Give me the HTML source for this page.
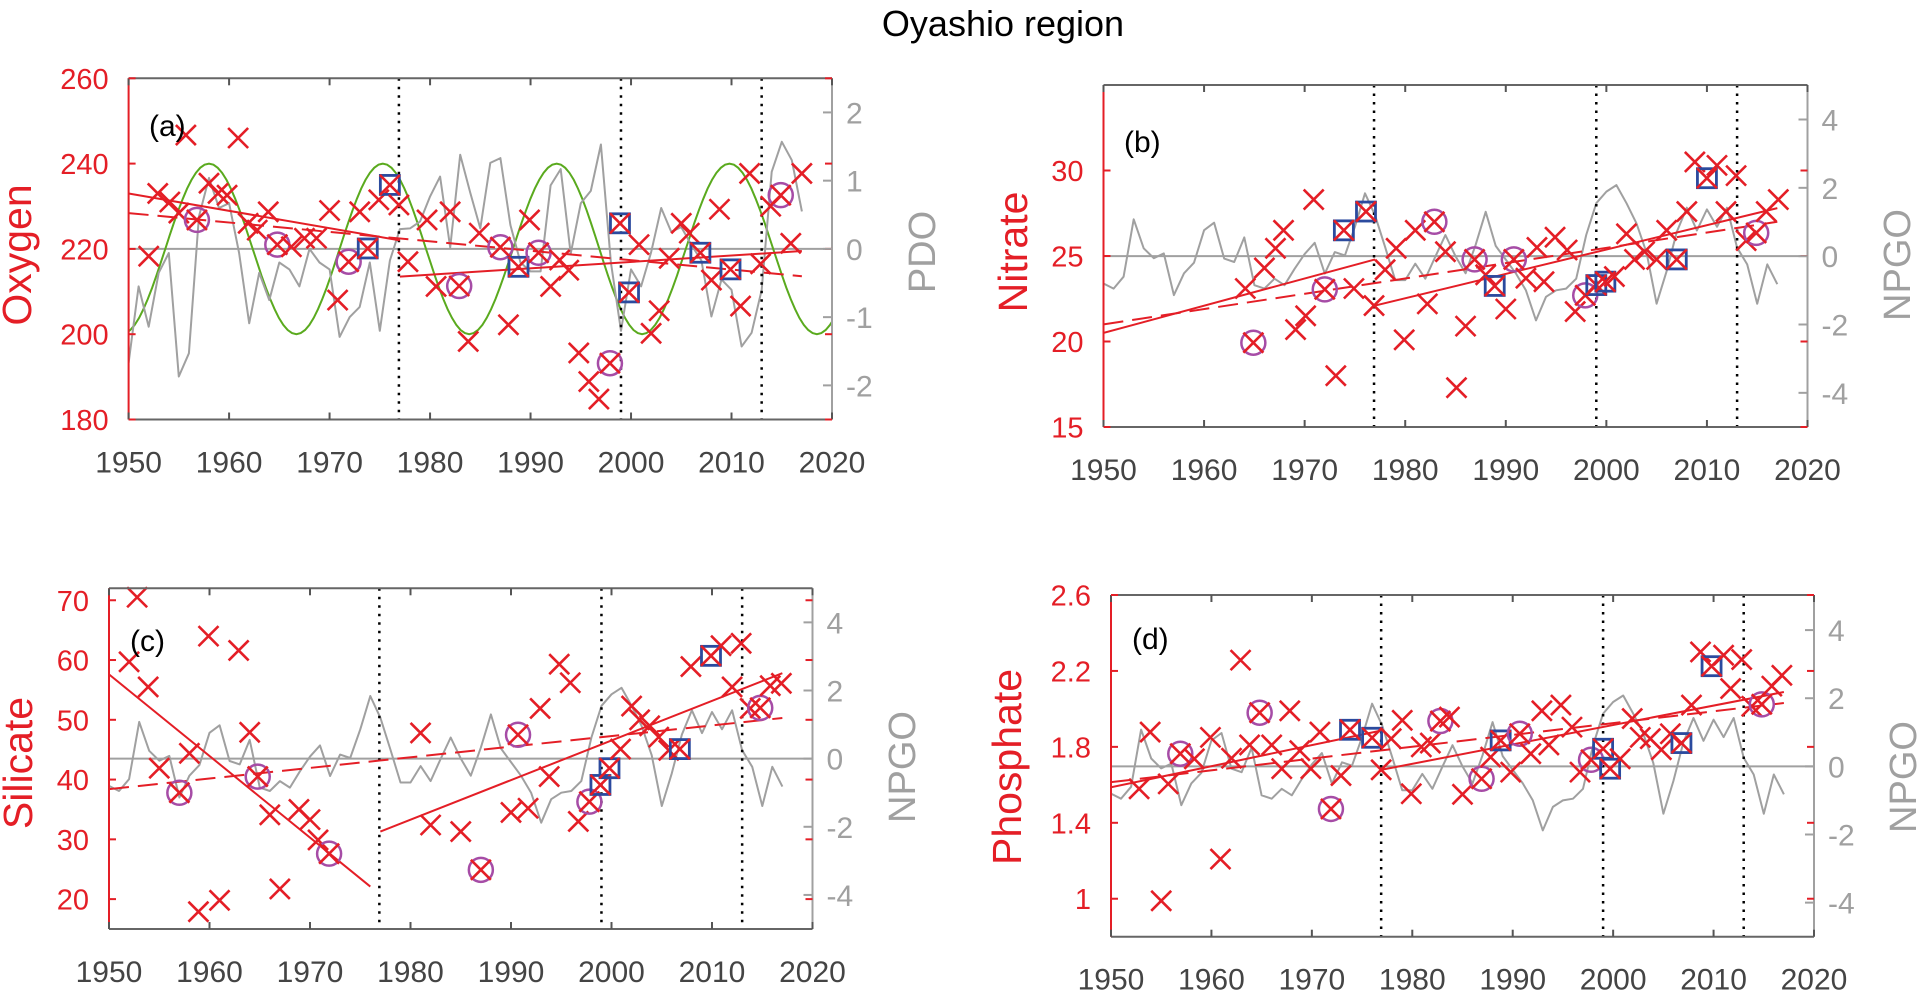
<!DOCTYPE html>
<html><head><meta charset="utf-8"><title>Oyashio region</title>
<style>
html,body{margin:0;padding:0;background:#fff;}
svg{display:block;font-family:"Liberation Sans",sans-serif;}
</style></head>
<body>
<svg id="fig" width="1922" height="992" viewBox="0 0 1922 992" xmlns="http://www.w3.org/2000/svg">
<text x="1003" y="36" font-size="36" text-anchor="middle" fill="#000">Oyashio region</text>
</svg>
<script>
// ---------- shared climate indices (1950..2017) ----------
const indexStartYear = 1950;
const pdoValues = [-1.67,-0.55,-1.14,-0.35,-0.06,-1.87,-1.53,0.47,1.04,0.6,0.67,-0.06,-1.09,-0.35,-0.75,-0.2,-0.3,-0.55,0.0,-0.2,-0.3,-1.29,-1.0,-0.85,-0.2,-1.2,-0.17,0.29,0.3,0.4,0.77,1.06,0.02,1.38,0.82,0.3,1.26,1.33,0.35,-0.2,-0.33,-0.33,0.93,1.17,-0.07,0.67,0.85,1.53,-0.2,-1.2,-0.3,-0.55,-0.05,0.6,0.25,0.32,0.06,-0.17,-0.99,-0.45,-0.6,-1.43,-1.23,-0.6,1.13,1.57,1.3,0.55];
const npgoValues = [-0.8,-0.95,-0.6,1.08,0.23,-0.06,0.08,-1.14,-0.5,-0.19,0.76,0.98,-0.07,-0.17,0.55,-0.85,-0.95,-0.66,-0.85,-0.37,0.06,0.39,-0.51,0.12,0.02,0.86,1.84,1.2,0.27,-0.7,-0.7,-0.22,-0.66,-0.01,0.62,0.0,-0.5,0.33,1.3,0.3,-0.1,-0.5,-1.0,-1.88,-1.19,-1.0,-0.95,-0.66,0.62,1.55,1.89,2.08,1.55,0.96,0.1,-1.39,-0.43,0.71,1.42,0.75,1.37,0.86,1.42,0.25,-0.24,-1.39,-0.24,-0.82];
// PDO cycle extremes (green curve)
const cycleYears = [1949.3,1958.0,1966.7,1975.3,1983.9,1992.6,2001.1,2009.8,2018.5,2027.2];
const cycleValues = [-1.25,1.25,-1.25,1.25,-1.25,1.25,-1.25,1.25,-1.25,1.25];
const regimeShiftYears = [1976.9,1999.0,2013.0];
const xTickYears = [1950,1960,1970,1980,1990,2000,2010,2020];

// ---------- (a) oxygen ----------
const oxyYears = [1952.0,1952.9,1954.1,1955.0,1955.7,1956.8,1958.0,1958.9,1959.8,1960.9,1961.9,1962.8,1963.9,1964.8,1966.2,1967.5,1968.7,1970.0,1970.8,1971.9,1973.0,1973.8,1974.9,1976.0,1976.9,1977.8,1979.7,1980.6,1982.0,1982.9,1983.8,1984.9,1987.0,1987.8,1988.8,1989.9,1990.8,1992.0,1992.9,1993.8,1994.8,1995.8,1996.8,1997.9,1998.9,1999.8,2000.8,2002.0,2002.8,2003.8,2005.0,2005.8,2006.9,2008.0,2008.8,2009.9,2010.9,2011.8,2012.9,2013.9,2014.9,2015.9,2017.0];
const oxyValues = [218.3,233,231,228.4,246.7,226.8,235.4,233,232.6,246,226,224.4,228.7,221,220.5,222.5,222.5,229,208,217,228.7,220.1,231.5,235,230.3,217,226.8,211.2,228.7,211.3,198.3,223.7,220.4,202.2,215.8,226.8,219.1,211.2,217.4,215,195.6,188.9,184.8,193.2,226,209.8,221,200.2,205.5,217.8,226,223.7,219.1,212.7,229.3,215.2,206.6,237.7,216.5,230,232.6,221.3,237.7];
const oxyKinds = "xxxxxoxxxxxxxoxxxxxoxsxsxxxxxoxxoxsxoxxxxxxossxxxxxxsxxsxxxxoxx";
const oxyEarlyTrend = [[1950,233],[1977,222]];
const oxyLateTrend = [[1977,213.5],[2017,219.5]];
const oxyFullTrend = [[1950,228.4],[2017,213.6]];
const oxyTicks = [180,200,220,240,260];
const pdoTicks = [-2,-1,0,1,2];

// ---------- (b) nitrate ----------
const nitYears = [1964.1,1964.9,1966.0,1967.1,1967.9,1969.1,1970.1,1970.9,1972.0,1973.1,1973.9,1974.9,1976.1,1976.9,1978.0,1979.1,1979.9,1981.0,1982.2,1982.9,1984.0,1985.1,1986.0,1986.9,1988.0,1988.9,1990.0,1990.8,1992.0,1993.1,1993.8,1994.9,1996.1,1996.9,1997.9,1999.0,1999.9,2000.8,2002.0,2002.8,2003.8,2005.0,2006.0,2007.0,2008.0,2008.8,2010.0,2011.0,2011.9,2012.9,2013.9,2014.9,2015.9,2017.1];
const nitValues = [23.1,19.93,24.3,25.45,26.5,20.7,21.5,28.3,23.05,18,26.5,23.1,27.6,22.1,24.2,25.45,20.1,26.5,22.2,27.0,25.25,17.3,20.9,24.8,23.9,23.25,21.9,24.8,23.7,25.5,23.5,26.1,25.35,21.75,22.7,23.3,23.5,23.8,26.3,24.8,25.25,24.8,26.5,24.8,27.6,30.5,29.55,30.3,27.6,29.7,25.9,26.35,27.6,28.3];
const nitKinds = "xoxxxxxxoxsxsxxxxxxoxxxoxsxoxxxxxxossxxxxxxsxxsxxxxoxx";
const nitEarlyTrend = [[1950,20.5],[1977,24.8]];
const nitLateTrend = [[1977,22.1],[2017,27.8]];
const nitFullTrend = [[1950,21.0],[2017,27.0]];
const nitTicks = [15,20,25,30];
const npgoTicks = [-4,-2,0,2,4];

// ---------- (c) silicate ----------
const silYears = [1952.0,1952.8,1953.9,1955.0,1957.0,1958.0,1958.9,1959.9,1961.0,1962.9,1964.0,1964.8,1966.0,1967.0,1968.9,1970.0,1970.8,1971.9,1981.0,1982.0,1985.0,1987.0,1990.0,1990.7,1991.7,1992.9,1993.8,1994.8,1995.9,1996.7,1997.8,1998.9,1999.8,2000.9,2002.0,2002.8,2003.8,2004.7,2005.7,2006.8,2007.9,2009.9,2010.9,2012.0,2012.9,2013.8,2014.8,2015.8,2016.9];
const silValues = [59.7,70.5,55.5,41.9,37.8,44.4,17.9,64,19.8,61.6,47.9,40.5,34.1,21.7,35.0,33.3,29.9,27.6,47.8,32.4,31.3,24.9,34.5,47.5,35.2,51.9,40.5,59.3,56.2,33,36.3,39.1,41.9,45.1,52.3,50,49,47.1,44.9,45.1,58.9,60.7,62.4,55.5,62.8,51.9,52,55.7,56.1];
const silKinds = "xxxxoxxxxxxoxxxxxoxxxoxoxxxxxxossxxxxxxsxsxxxxoxx";
const silEarlyTrend = [[1950,57.6],[1976,22.1]];
const silLateTrend = [[1977,31.3],[2017,57.8]];
const silFullTrend = [[1950,38.4],[2017,50.3]];
const silTicks = [20,30,40,50,60,70];

// ---------- (d) phosphate ----------
const phoYears = [1952.8,1953.9,1955.0,1955.7,1956.9,1958.3,1959.9,1960.9,1962.0,1962.9,1963.8,1964.8,1966.0,1967.0,1967.8,1968.8,1969.9,1970.8,1971.9,1972.9,1973.8,1976.0,1976.9,1977.9,1979.0,1979.9,1980.9,1981.8,1982.8,1983.7,1985.0,1986.9,1987.8,1988.8,1989.8,1990.7,1991.8,1992.9,1993.6,1994.8,1995.9,1996.7,1997.8,1999.0,1999.7,2000.7,2001.9,2002.7,2003.7,2004.8,2005.7,2006.8,2007.8,2008.7,2009.8,2011.0,2011.7,2012.8,2013.8,2014.8,2015.8,2016.8];
const phoValues = [1.579,1.878,0.989,1.605,1.764,1.737,1.85,1.209,1.74,2.257,1.81,1.98,1.81,1.685,1.99,1.78,1.685,1.878,1.473,1.649,1.89,1.848,1.679,1.843,1.94,1.553,1.8,1.82,1.936,1.957,1.55,1.632,1.746,1.834,1.667,1.869,1.764,1.99,1.81,2.02,1.904,1.667,1.732,1.79,1.685,1.737,1.949,1.85,1.843,1.785,1.869,1.82,2.02,2.3,2.225,2.283,2.107,2.26,2.014,2.024,2.12,2.177];
const phoKinds = "xxxxoxxxxxxoxxxxxxoxssxxxxxxoxxoxsxoxxxxxxossxxxxxxsxxsxxxxoxx";
const phoEarlyTrend = [[1950,1.587],[1977,1.887]];
const phoLateTrend = [[1977,1.68],[2017,2.089]];
const phoFullTrend = [[1950,1.614],[2017,2.031]];
const phoTicks = [1.0,1.4,1.8,2.2,2.6];

// ---------- drawing ----------
const NS = "http://www.w3.org/2000/svg";
const svg = document.getElementById("fig");
const RED = "#e41e26", GRAY = "#a0a0a0", GREEN = "#5aaa1e";
function el(tag, attrs, parent) {
  const e = document.createElementNS(NS, tag);
  for (const k in attrs) e.setAttribute(k, attrs[k]);
  (parent || svg).appendChild(e);
  return e;
}
function fmt(v){ return (Math.round(v*10)/10).toString(); }

function drawPanel(cfg) {
  const g = el("g", {});
  
  
  const xs = yr => cfg.left + (yr - 1950) / 70 * (cfg.right - cfg.left);
  const ys = v => cfg.bottom - (v - cfg.yMin) / (cfg.yMax - cfg.yMin) * (cfg.bottom - cfg.top);
  const rs = v => cfg.bottom - (v - cfg.rMin) / (cfg.rMax - cfg.rMin) * (cfg.bottom - cfg.top);
  const clip = "clip-" + cfg.name;
  const defs = el("defs", {}, g);
  const cp = el("clipPath", {id: clip}, defs);
  el("rect", {x: cfg.left, y: cfg.top, width: cfg.right - cfg.left, height: cfg.bottom - cfg.top}, cp);
  const plot = el("g", {"clip-path": "url(#" + clip + ")"}, g);

  const z = el("line", {x1: cfg.left, x2: cfg.right, y1: rs(0), y2: rs(0), stroke: GRAY, "stroke-width": 2}, plot);
  
  

  if (cfg.cycle) {
    let d = "";
    for (let i = 0; i < cycleYears.length - 1; i++) {
      const y0 = cycleYears[i], y1 = cycleYears[i+1], v0 = cycleValues[i], v1 = cycleValues[i+1];
      for (let s = 0; s <= 20; s++) {
        const t = s / 20, yr = y0 + (y1 - y0) * t;
        const v = v0 + (v1 - v0) * (1 - Math.cos(Math.PI * t)) / 2;
        d += (d ? "L" : "M") + xs(yr).toFixed(1) + "," + rs(v).toFixed(1);
      }
    }
    const c = el("path", {d: d, fill: "none", stroke: GREEN, "stroke-width": 2}, plot);
    
    
  }

  let d = "";
  cfg.index.forEach((v, i) => { d += (i ? "L" : "M") + xs(indexStartYear + i).toFixed(1) + "," + rs(v).toFixed(1); });
  const il = el("path", {d: d, fill: "none", stroke: GRAY, "stroke-width": 2, "stroke-linejoin": "round"}, plot);
  
  

  regimeShiftYears.forEach(yr => {
    const l = el("line", {x1: xs(yr), x2: xs(yr), y1: cfg.top, y2: cfg.bottom, stroke: "#000", "stroke-width": 2.5, "stroke-dasharray": "2.5,6"}, plot);
    
    
  });

  [[cfg.early, null, 'early-trend-line'], [cfg.late, null, 'late-trend-line'], [cfg.full, "20,9", 'full-trend-line']].forEach(t => {
    const seg = t[0];
    const a = {x1: xs(seg[0][0]), y1: ys(seg[0][1]), x2: xs(seg[1][0]), y2: ys(seg[1][1]), stroke: RED, "stroke-width": 2};
    if (t[1]) a["stroke-dasharray"] = t[1];
    const l = el("line", a, plot);
    
    
  });

  cfg.years.forEach((yr, i) => {
    const cx = xs(yr), cy = ys(cfg.values[i]), k = cfg.kinds[i];
    const m = el("g", {}, g);
    
    
    if (k === "o") el("circle", {cx: cx, cy: cy, r: 12, fill: "none", stroke: "#a64ca6", "stroke-width": 2.5}, m);
    if (k === "s") el("rect", {x: cx - 9.5, y: cy - 9.5, width: 19, height: 19, fill: "none", stroke: "#2b4a9e", "stroke-width": 2.8}, m);
    el("path", {d: `M${cx-10},${cy-10}L${cx+10},${cy+10}M${cx-10},${cy+10}L${cx+10},${cy-10}`, stroke: RED, "stroke-width": 2.6, fill: "none"}, m);
  });

  const ax = el("g", {}, g);
  
  
  el("line", {x1: cfg.left, x2: cfg.right, y1: cfg.top, y2: cfg.top, stroke: "#666", "stroke-width": 2}, ax);
  el("line", {x1: cfg.left, x2: cfg.right, y1: cfg.bottom, y2: cfg.bottom, stroke: "#666", "stroke-width": 2}, ax);
  el("line", {x1: cfg.right, x2: cfg.right, y1: cfg.top, y2: cfg.bottom, stroke: GRAY, "stroke-width": 2}, ax);
  el("line", {x1: cfg.left, x2: cfg.left, y1: cfg.top, y2: cfg.bottom, stroke: RED, "stroke-width": 2}, ax);
  xTickYears.forEach(yr => {
    const x = xs(yr);
    el("line", {x1: x, x2: x, y1: cfg.bottom, y2: cfg.bottom - 7, stroke: "#555", "stroke-width": 2}, ax);
    el("line", {x1: x, x2: x, y1: cfg.top, y2: cfg.top + 7, stroke: "#555", "stroke-width": 2}, ax);
    const t = el("text", {x: x, y: cfg.bottom + 53, "font-size": 30, "text-anchor": "middle", fill: "#444"}, ax);
    t.textContent = yr;
    
    
  });
  cfg.yTicks.forEach(v => {
    const y = ys(v);
    el("line", {x1: cfg.left, x2: cfg.left + 7, y1: y, y2: y, stroke: RED, "stroke-width": 2}, ax);
    el("line", {x1: cfg.right, x2: cfg.right - 7, y1: y, y2: y, stroke: RED, "stroke-width": 2}, ax);
    const t = el("text", {x: cfg.left - 20, y: y + 10.5, "font-size": 29, "text-anchor": "end", fill: RED}, ax);
    t.textContent = fmt(v);
    
    
  });
  cfg.rTicks.forEach(v => {
    const y = rs(v);
    el("line", {x1: cfg.right, x2: cfg.right - 9, y1: y, y2: y, stroke: GRAY, "stroke-width": 2}, ax);
    const t = el("text", {x: cfg.right + 14, y: y + 11, "font-size": 30, "text-anchor": "start", fill: GRAY}, ax);
    t.textContent = v;
    
    
  });
  const yl = el("text", {x: 0, y: 0, "font-size": 41, "text-anchor": "middle", fill: RED, transform: `translate(${cfg.ylx + 14},${cfg.yly}) rotate(-90)`}, g);
  yl.textContent = cfg.ylabel;
  
  
  const rl = el("text", {x: 0, y: 0, "font-size": 38, "text-anchor": "middle", fill: GRAY, transform: `translate(${cfg.rlx + 13},${cfg.rly}) rotate(-90)`}, g);
  rl.textContent = cfg.rlabel;
  
  
  const pl = el("text", {x: cfg.plx, y: cfg.ply, "font-size": 30, fill: "#000"}, g);
  pl.textContent = cfg.panel;
  
  
}

drawPanel({name: "panel-a-oxygen", left: 128.6, right: 832, top: 78.3, bottom: 419.5, yMin: 180, yMax: 260, rMin: -2.5, rMax: 2.5,
  index: pdoValues, indexName: "pdo", cycle: true, years: oxyYears, values: oxyValues, kinds: oxyKinds,
  early: oxyEarlyTrend, late: oxyLateTrend, full: oxyFullTrend, yTicks: oxyTicks, rTicks: pdoTicks,
  ylabel: "Oxygen", ylx: 17, yly: 255, rlabel: "PDO", rlx: 922, rly: 252, panel: "(a)", plx: 149, ply: 136});
drawPanel({name: "panel-b-nitrate", left: 1103.5, right: 1807.5, top: 85, bottom: 427, yMin: 15, yMax: 35, rMin: -5, rMax: 5.01,
  index: npgoValues, indexName: "npgo", cycle: false, years: nitYears, values: nitValues, kinds: nitKinds,
  early: nitEarlyTrend, late: nitLateTrend, full: nitFullTrend, yTicks: nitTicks, rTicks: npgoTicks,
  ylabel: "Nitrate", ylx: 1013, yly: 252, rlabel: "NPGO", rlx: 1897, rly: 265, panel: "(b)", plx: 1124, ply: 152});
drawPanel({name: "panel-c-silicate", left: 109, right: 812.5, top: 588.3, bottom: 929, yMin: 15, yMax: 72, rMin: -5, rMax: 5,
  index: npgoValues, indexName: "npgo", cycle: false, years: silYears, values: silValues, kinds: silKinds,
  early: silEarlyTrend, late: silLateTrend, full: silFullTrend, yTicks: silTicks, rTicks: npgoTicks,
  ylabel: "Silicate", ylx: 18, yly: 763, rlabel: "NPGO", rlx: 902, rly: 767, panel: "(c)", plx: 130, ply: 651});
drawPanel({name: "panel-d-phosphate", left: 1111, right: 1814, top: 595, bottom: 936.7, yMin: 0.8, yMax: 2.6, rMin: -5, rMax: 5.03,
  index: npgoValues, indexName: "npgo", cycle: false, years: phoYears, values: phoValues, kinds: phoKinds,
  early: phoEarlyTrend, late: phoLateTrend, full: phoFullTrend, yTicks: phoTicks, rTicks: npgoTicks,
  ylabel: "Phosphate", ylx: 1007, yly: 767, rlabel: "NPGO", rlx: 1903, rly: 777, panel: "(d)", plx: 1132, ply: 649});
</script>
</body></html>
